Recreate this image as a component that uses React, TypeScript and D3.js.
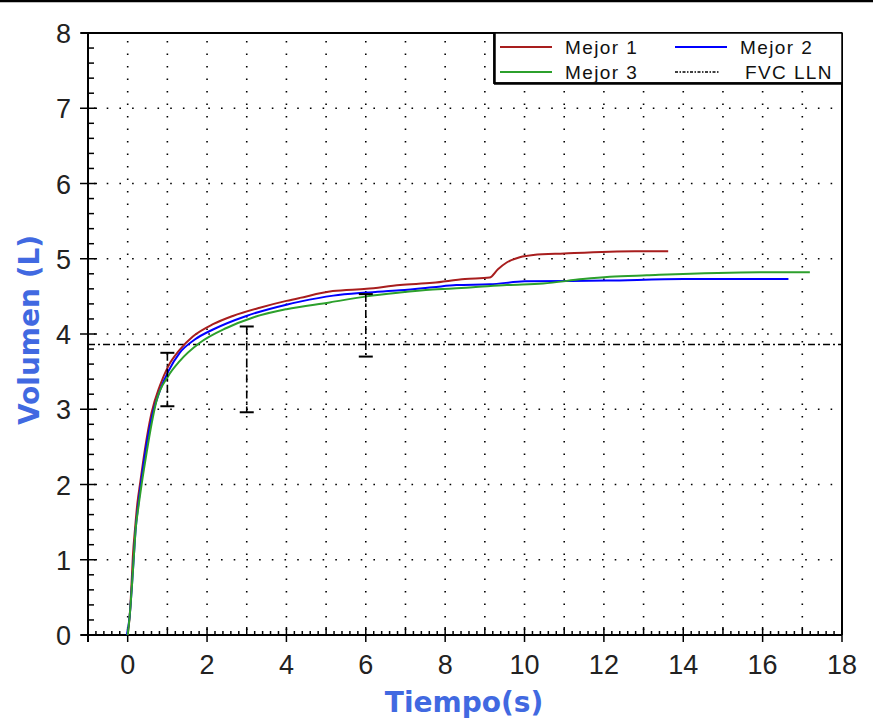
import React from "react";
import * as d3 from "d3";

// ---- data ----
const m1T = [0, 0.05, 0.09, 0.13, 0.19, 0.24, 0.32, 0.43, 0.6, 0.81, 1.02, 1.31, 1.65, 2.15, 2.65, 3.33, 4.0, 4.34, 5.17, 6.02, 6.86, 7.69, 8.5, 9.12, 9.33, 9.55, 9.88, 10.22, 11.0, 12.78, 13.62];
const m1V = [0, 0.25, 0.6, 1.04, 1.44, 1.73, 2.04, 2.45, 2.95, 3.31, 3.57, 3.79, 3.97, 4.13, 4.24, 4.35, 4.44, 4.48, 4.57, 4.6, 4.65, 4.68, 4.73, 4.75, 4.86, 4.95, 5.02, 5.05, 5.07, 5.1, 5.1];
const m2T = [-0.02, 0.05, 0.1, 0.15, 0.2, 0.26, 0.33, 0.45, 0.62, 0.82, 1.02, 1.31, 1.7, 2.15, 2.99, 4.0, 4.34, 5.18, 6.0, 6.86, 7.69, 8.28, 9.13, 10.0, 12.07, 14.0, 16.65];
const m2V = [0, 0.25, 0.6, 1.0, 1.4, 1.7, 2.0, 2.45, 2.92, 3.26, 3.5, 3.75, 3.93, 4.06, 4.24, 4.39, 4.43, 4.51, 4.55, 4.58, 4.62, 4.65, 4.66, 4.7, 4.71, 4.73, 4.73];
const m3T = [0, 0.05, 0.1, 0.15, 0.2, 0.27, 0.35, 0.47, 0.6, 0.72, 1.02, 1.31, 1.81, 2.49, 3.16, 4.0, 5.09, 6.02, 6.86, 7.69, 8.7, 9.55, 10.47, 11.47, 12.15, 13.08, 15.93, 17.19];
const m3V = [0, 0.25, 0.6, 1.0, 1.4, 1.7, 2.0, 2.4, 2.8, 3.1, 3.44, 3.64, 3.88, 4.08, 4.22, 4.33, 4.42, 4.5, 4.55, 4.59, 4.62, 4.65, 4.67, 4.73, 4.76, 4.78, 4.82, 4.82];
const fvcLLN = 3.86;
const errT = [1, 3, 6];
const errLow = [3.04, 2.96, 3.7];
const errHigh = [3.75, 4.1, 4.53];
const xTickLabels = [0, 2, 4, 6, 8, 10, 12, 14, 16, 18];
const yTickLabels = [0, 1, 2, 3, 4, 5, 6, 7, 8];
const seriesNames = ["Mejor 1", "Mejor 2", "Mejor 3", "FVC LLN"];
const seriesColors = ["#a81e1e", "#0000ff", "#2ca02c", "#000000"];

const W = 873, H = 724;
const x = d3.scaleLinear().domain([-1, 18]).range([88, 842]);
const y = d3.scaleLinear().domain([0, 8]).range([635, 33]);

const line = d3.line<[number, number]>().x(d => x(d[0])).y(d => y(d[1])).curve(d3.curveMonotoneX);
const pts = (t: number[], v: number[]) => t.map((ti, i) => [ti, v[i]] as [number, number]);

export default function App() {
  const tickFont = "'Liberation Sans', Arial, sans-serif";
  const titleFont = "'DejaVu Sans', Verdana, sans-serif";
  const gridInts = d3.range(0, 18);
  const yInts = d3.range(1, 8);
  const xMinor = d3.range(-1, 18.001, 0.2);
  const yMinor = d3.range(0, 8.001, 0.2);
  const series = [pts(m1T, m1V), pts(m2T, m2V), pts(m3T, m3V)];
  const dashDot = "7 3 2 3";
  return (
    <svg width={W} height={H} style={{ position: "absolute", left: 0, top: 0, background: "#fff" }}>
      <rect x={0} y={0} width={W} height={H} fill="#fff" />
      <line x1={0} x2={W} y1={1} y2={1} stroke="#000" strokeWidth={2.5} />
      {/* grid */}
      {gridInts.map(v => (
        <line key={"gx" + v} x1={x(v)} x2={x(v)} y1={y(0)} y2={y(8)} stroke="#000" strokeWidth={1.6} strokeDasharray="1.6 10.9" strokeDashoffset={-5} />
      ))}
      {yInts.map(v => (
        <line key={"gy" + v} x1={x(-1)} x2={x(18)} y1={y(v)} y2={y(v)} stroke="#000" strokeWidth={1.6} strokeDasharray="1.6 11.1" strokeDashoffset={-6} />
      ))}
      {/* borders */}
      <line x1={81} x2={x(18)} y1={y(8)} y2={y(8)} stroke="#000" strokeWidth={2} />
      <line x1={x(18)} x2={x(18)} y1={y(8)} y2={y(0)} stroke="#000" strokeWidth={2} />
      <line x1={81} x2={x(18)} y1={y(0)} y2={y(0)} stroke="#000" strokeWidth={2} />
      <line x1={x(-1)} x2={x(-1)} y1={y(8)} y2={y(0) + 7} stroke="#000" strokeWidth={2} />
      {/* x ticks */}
      {xMinor.map((v, i) => {
        const r = Math.round(v * 5) / 5;
        const isInt = Math.abs(r - Math.round(r)) < 1e-6;
        const isEven = isInt && Math.round(r) % 2 === 0;
        const y1 = isEven ? y(0) + 7 : y(0);
        const y2 = isInt ? y(0) - 8 : y(0) - 4;
        return <line key={"xt" + i} x1={x(r)} x2={x(r)} y1={y1} y2={y2} stroke="#000" strokeWidth={1.5} />;
      })}
      {/* y ticks */}
      {yMinor.map((v, i) => {
        const r = Math.round(v * 5) / 5;
        const isInt = Math.abs(r - Math.round(r)) < 1e-6;
        return <line key={"yt" + i} x1={isInt ? 80 : x(-1)} x2={isInt ? 97 : x(-1) + 6} y1={y(r)} y2={y(r)} stroke="#000" strokeWidth={1.5} />;
      })}
      {xTickLabels.map(v => (
        <text key={"xl" + v} x={x(v)} y={674} textAnchor="middle" fontFamily={tickFont} fontSize={27} fill="#222">{v}</text>
      ))}
      {yTickLabels.map(v => (
        <text key={"yl" + v} x={71} y={y(v) + 10} textAnchor="end" fontFamily={tickFont} fontSize={27} fill="#222">{v}</text>
      ))}
      {/* FVC LLN */}
      <line x1={x(-1)} x2={x(18)} y1={y(fvcLLN)} y2={y(fvcLLN)} stroke="#000" strokeWidth={1.5} strokeDasharray={dashDot} />
      {/* curves */}
      {series.map((s, i) => (
        <path key={"s" + i} d={line(s) || ""} fill="none" stroke={seriesColors[i]} strokeWidth={2} />
      ))}
      {/* error bars */}
      {errT.map((t, i) => (
        <g key={"e" + i}>
          <line x1={x(t)} x2={x(t)} y1={y(errHigh[i])} y2={y(errLow[i])} stroke="#000" strokeWidth={1.6} strokeDasharray="8 3 2 3" />
          <line x1={x(t) - 7} x2={x(t) + 7} y1={y(errHigh[i])} y2={y(errHigh[i])} stroke="#000" strokeWidth={2} />
          <line x1={x(t) - 7} x2={x(t) + 7} y1={y(errLow[i])} y2={y(errLow[i])} stroke="#000" strokeWidth={2} />
        </g>
      ))}
      {/* legend */}
      <rect x={494} y={33} width={x(18) - 494} height={50} fill="#fff" stroke="#000" strokeWidth={1.5} />
      <line x1={494.5} x2={494.5} y1={33} y2={84} stroke="#000" strokeWidth={2.5} />
      <line x1={494} x2={x(18)} y1={83.5} y2={83.5} stroke="#000" strokeWidth={2.5} />
      {[0, 1, 2, 3].map(k => {
        const col = k % 2;
        const row = Math.floor(k / 2);
        const lx = col === 0 ? 500 : 675;
        const ly = row === 0 ? 47 : 72;
        const tx = col === 0 ? 565 : (k === 3 ? 745 : 740);
        return (
          <g key={"lg" + k}>
            <line x1={lx} x2={lx + (k === 3 ? 45 : 52)} y1={ly} y2={ly} stroke={seriesColors[k]} strokeWidth={k === 3 ? 1.3 : 2} strokeDasharray={k === 3 ? "3 1.5 1.5 1.5" : undefined} />
            <text x={tx} y={ly + 6.5} fontFamily={tickFont} fontSize={19} letterSpacing={1.4} fill="#111">{seriesNames[k]}</text>
          </g>
        );
      })}
      {/* axis titles */}
      <text x={464} y={712} textAnchor="middle" fontFamily={titleFont} fontWeight="bold" fontSize={28} fill="#4169e1">Tiempo(s)</text>
      <text transform={`translate(39,330) rotate(-90)`} textAnchor="middle" fontFamily={titleFont} fontWeight="bold" fontSize={28} fill="#4169e1">Volumen (L)</text>
    </svg>
  );
}
